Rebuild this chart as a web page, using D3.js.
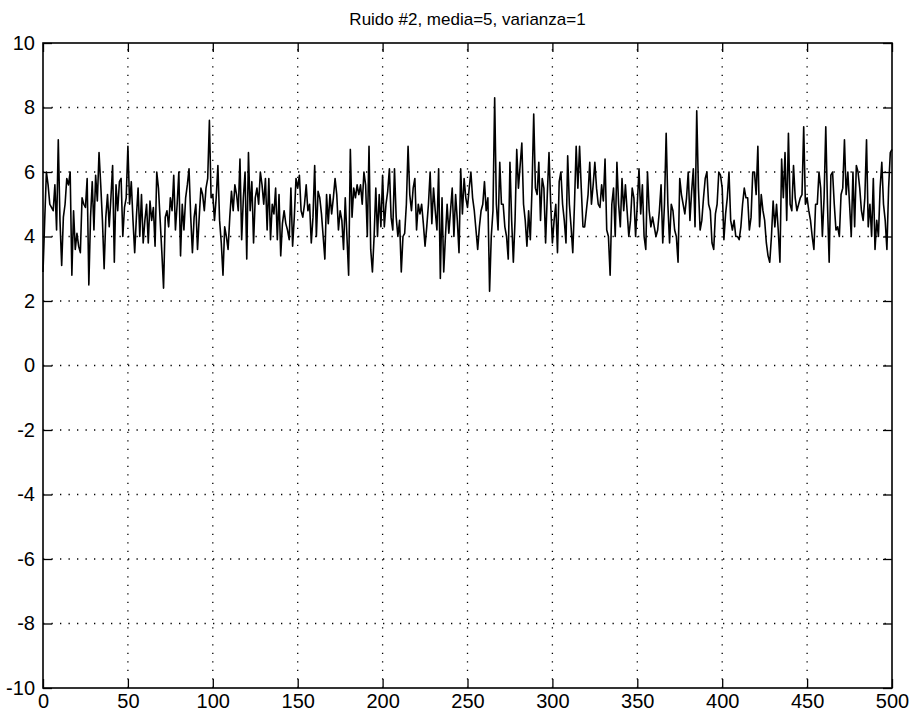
<!DOCTYPE html>
<html><head><meta charset="utf-8">
<script src="https://cdn.jsdelivr.net/npm/d3@7/dist/d3.min.js"></script>
<style>body{margin:0;background:#fff}svg{display:block}text{font-family:"Liberation Sans",Arial,sans-serif;fill:#000}</style>
</head><body><svg id="c" width="919" height="720"></svg>
<script>
const title = "Ruido #2, media=5, varianza=1";
const xTicks = [0,50,100,150,200,250,300,350,400,450,500];
const yTicks = [-10,-8,-6,-4,-2,0,2,4,6,8,10];
const values = [
2.9,4.5,6.0,5.6,5.0,4.9,4.8,5.6,4.2,7.0,
4.5,3.1,4.6,5.0,5.8,5.6,6.0,2.8,4.8,3.6,
4.1,3.7,3.5,5.2,5.0,4.9,5.8,2.5,4.6,5.7,
4.2,5.9,5.1,6.6,5.6,4.5,3.0,4.6,5.3,4.3,
5.2,6.2,3.2,5.6,4.8,5.7,5.8,4.0,4.9,5.2,
6.8,5.0,5.7,4.5,3.5,4.6,5.5,4.0,5.3,3.8,
4.5,5.0,3.8,5.1,4.5,4.9,3.7,6.0,5.5,4.5,
3.5,2.4,4.6,4.8,4.3,5.2,4.8,5.9,4.2,5.0,
6.0,3.4,5.0,4.2,5.2,5.6,6.1,4.6,3.5,4.6,
5.0,3.6,4.6,5.5,5.3,4.8,5.5,5.8,7.6,5.2,
5.3,4.5,5.2,6.2,4.5,3.8,2.8,4.3,4.0,3.6,
4.6,5.4,4.8,5.6,5.3,4.8,6.4,3.9,5.2,6.0,
3.3,6.6,4.8,5.7,3.8,5.2,5.5,5.0,6.0,5.6,
5.0,5.8,4.2,5.8,3.9,5.0,4.7,5.5,3.9,5.3,
3.4,4.4,4.8,4.4,4.2,3.9,5.5,3.7,4.6,5.8,
5.5,5.9,4.8,4.6,5.0,5.6,4.8,5.0,3.8,4.6,
6.2,4.0,5.4,5.2,4.7,4.0,3.3,5.3,4.4,5.3,
4.7,5.2,5.8,5.3,4.2,4.8,4.5,3.6,5.2,4.0,
2.8,6.7,4.6,5.5,5.2,5.6,5.3,5.6,5.0,6.0,
5.6,4.0,6.8,3.6,2.9,4.0,5.5,4.0,5.3,4.3,
5.9,4.3,5.0,5.4,6.1,4.6,4.2,6.1,4.6,4.0,
4.5,2.9,4.0,4.1,5.0,6.8,5.3,4.8,5.5,5.8,
4.2,5.0,4.7,5.0,4.4,3.7,4.3,5.0,6.0,4.4,
5.5,4.8,4.2,6.1,2.7,5.2,2.9,4.0,5.0,4.1,
4.8,5.5,4.0,5.3,4.5,3.5,6.1,4.7,5.8,5.2,
4.9,5.5,6.0,5.2,4.8,4.2,3.6,4.3,4.8,5.0,
5.7,4.8,5.2,2.3,4.0,4.8,8.3,5.0,4.2,6.3,
5.0,5.0,4.3,4.0,3.3,6.3,4.5,3.2,4.5,6.7,
5.5,6.2,6.9,5.0,4.5,3.7,4.8,3.9,5.5,7.8,
5.5,5.3,6.3,4.5,5.8,5.5,3.8,5.3,6.6,5.0,
3.8,4.5,5.0,3.5,5.7,6.0,5.0,4.5,3.8,6.5,
5.0,4.3,3.5,5.0,6.8,5.5,6.8,5.5,4.3,4.3,
4.8,5.3,6.3,5.0,5.6,6.3,5.5,5.0,4.9,5.6,
5.1,6.4,4.2,4.0,2.8,5.0,5.5,4.0,6.3,5.0,
4.3,5.8,4.8,5.6,4.8,4.0,4.5,5.5,5.2,4.0,
5.0,6.1,4.7,5.6,4.0,3.6,6.0,4.8,4.3,4.6,
4.3,4.0,4.2,4.8,5.6,3.8,5.0,7.2,5.0,3.8,
5.0,4.8,4.2,4.0,3.2,5.8,5.3,5.0,4.7,5.2,
6.0,4.5,5.4,6.1,4.3,7.9,5.5,4.2,4.5,5.2,
5.8,6.0,5.0,4.8,3.8,3.6,4.7,5.0,6.0,5.9,
5.5,3.9,4.7,5.2,6.0,4.5,4.2,4.5,4.0,4.0,
3.9,4.3,5.0,5.5,5.2,5.2,4.2,4.6,6.0,6.0,
5.3,6.8,4.3,5.3,4.8,4.5,3.8,3.4,3.2,4.0,
5.1,4.3,5.0,4.2,3.2,6.4,5.2,6.6,4.5,7.2,
5.0,4.8,6.2,5.2,4.8,5.0,5.2,5.3,7.4,5.0,
5.2,4.8,4.5,4.0,3.6,5.0,5.0,6.0,5.5,4.0,
5.2,7.4,5.0,3.2,5.9,6.0,5.0,4.2,4.3,4.0,
5.3,5.5,7.0,5.3,6.0,5.0,4.0,6.0,4.3,6.2,
6.0,5.5,4.8,4.5,5.2,7.0,4.3,5.0,4.0,5.8,
3.6,4.5,4.0,5.5,6.3,5.0,4.5,3.6,5.5,6.6,
6.7
];

const svg = d3.select("#c");
const L = 43, R = 892, T = 43, B = 688;
const x = d3.scaleLinear().domain([0, 500]).range([L, R]);
const y = d3.scaleLinear().domain([-10, 10]).range([B, T]);
const tickLen = 9;

// grid
const grid = svg.append("g").attr("stroke", "#000").attr("stroke-width", 1.3).attr("stroke-dasharray", "1.3,7.2");
grid.selectAll(".vg").data(xTicks.slice(1, -1)).enter().append("line")
  .attr("x1", d => x(d)).attr("x2", d => x(d)).attr("y1", B).attr("y2", T);
grid.selectAll(".hg").data(yTicks.slice(1, -1)).enter().append("line")
  .attr("y1", d => y(d)).attr("y2", d => y(d)).attr("x1", L).attr("x2", R);

// axes with inward ticks
const fmt = d => d < 0 ? "-" + Math.abs(d) : String(d);
const gx = svg.append("g").attr("transform", `translate(0,${B})`)
  .call(d3.axisBottom(x).tickValues(xTicks).tickSizeInner(-tickLen).tickSizeOuter(0).tickPadding(6).tickFormat(fmt));
const gxt = svg.append("g").attr("transform", `translate(0,${T})`)
  .call(d3.axisTop(x).tickValues(xTicks).tickSizeInner(-tickLen).tickSizeOuter(0).tickFormat(""));
const gy = svg.append("g").attr("transform", `translate(${L},0)`)
  .call(d3.axisLeft(y).tickValues(yTicks).tickSizeInner(-tickLen).tickSizeOuter(0).tickPadding(8).tickFormat(fmt));
const gyr = svg.append("g").attr("transform", `translate(${R},0)`)
  .call(d3.axisRight(y).tickValues(yTicks).tickSizeInner(-tickLen).tickSizeOuter(0).tickFormat(""));
[gx, gxt, gy, gyr].forEach(g => {
  g.select(".domain").remove();
  g.selectAll(".tick line").attr("stroke", "#000").attr("stroke-width", 1.3);
  g.selectAll("text").attr("font-size", 20).attr("font-family", '"Liberation Sans", Arial, sans-serif').attr("fill", "#000");
});

// frame
svg.append("rect").attr("x", L).attr("y", T).attr("width", R - L).attr("height", B - T)
  .attr("fill", "none").attr("stroke", "#000").attr("stroke-width", 1.6);

// series
const line = d3.line().x((d, i) => x(i)).y(d => y(d));
svg.append("path").datum(values).attr("d", line)
  .attr("fill", "none").attr("stroke", "#000").attr("stroke-width", 1.6).attr("stroke-linejoin", "round");

// title
svg.append("text").attr("x", (L + R) / 2).attr("y", 25).attr("text-anchor", "middle")
  .attr("font-size", 17).text(title);
</script></body></html>
